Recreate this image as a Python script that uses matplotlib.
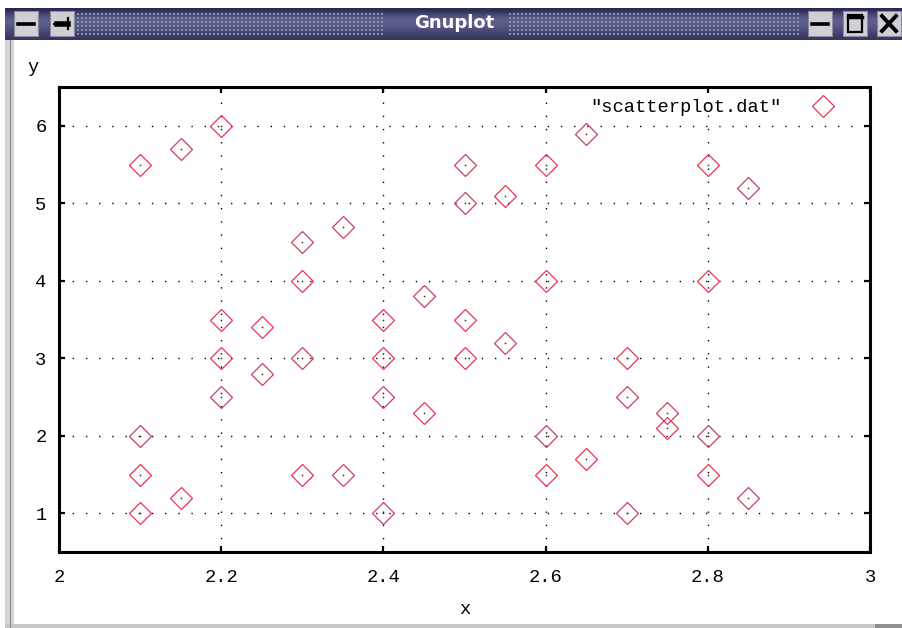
import numpy as np
import matplotlib
matplotlib.use("Agg")
import matplotlib.pyplot as plt
from matplotlib.patches import Rectangle
from matplotlib.colors import LinearSegmentedColormap

# scatterplot.dat
x = [2.10, 2.15, 2.20, 2.30, 2.35, 2.30, 2.20, 2.25, 2.20, 2.25,
     2.20, 2.30, 2.10, 2.10, 2.15, 2.10, 2.30, 2.35, 2.40, 2.40,
     2.40, 2.40, 2.45, 2.45, 2.50, 2.50, 2.55, 2.50, 2.50, 2.55,
     2.60, 2.65, 2.60, 2.60, 2.60, 2.65, 2.70, 2.70, 2.70, 2.75,
     2.75, 2.80, 2.80, 2.80, 2.80, 2.85, 2.85]
y = [5.5, 5.7, 6.0, 4.5, 4.7, 4.0, 3.5, 3.4, 3.0, 2.8,
     2.5, 3.0, 2.0, 1.5, 1.2, 1.0, 1.5, 1.5, 3.5, 3.0,
     2.5, 1.0, 3.8, 2.3, 5.5, 5.0, 5.1, 3.5, 3.0, 3.2,
     5.5, 5.9, 4.0, 2.0, 1.5, 1.7, 3.0, 2.5, 1.0, 2.3,
     2.1, 5.5, 4.0, 2.0, 1.5, 5.2, 1.2]
xticks = [2, 2.2, 2.4, 2.6, 2.8, 3]
yticks = [1, 2, 3, 4, 5, 6]

W, H = 903, 628
mono = "Liberation Mono"
fsize = 13.5
red = "#d83a55"

fig = plt.figure(figsize=(W / 100, H / 100), dpi=100)
fig.patch.set_facecolor("white")

# --- window frame (pixel coordinates) ---
bg = fig.add_axes([0, 0, 1, 1], zorder=-5)
bg.set_xlim(0, W)
bg.set_ylim(H, 0)
bg.axis("off")

grad = np.array([0.0, 0.35, 0.6, 0.7, 0.6, 0.45, 0.3, 0.15])[:, None]
tb_cmap = LinearSegmentedColormap.from_list("tb", ["#2a2a50", "#606090"])
bg.imshow(grad, cmap=tb_cmap, extent=[5, W, 40, 8], aspect="auto",
          interpolation="bicubic", zorder=1)

# dotted texture either side of the title
for x0, x1 in [(62, 385), (510, 800)]:
    gx, gy = np.meshgrid(np.arange(x0, x1, 4), np.arange(14, 36, 4))
    bg.scatter(gx.ravel(), gy.ravel(), s=0.6, c="#8e8eb2", marker="s",
               linewidths=0, zorder=2)

bg.text(454, 23, "Gnuplot", color="white", fontsize=13, fontweight="bold",
        family="DejaVu Sans", ha="center", va="center", zorder=3)

# title bar buttons
for bx in [14, 50, 808, 843, 877]:
    bg.add_patch(Rectangle((bx, 11), 24, 25, facecolor="#cfcfd6",
                           edgecolor="#8a8aa0", linewidth=0.8, zorder=3))
bg.plot([18, 34], [23.5, 23.5], color="black", lw=2.6, zorder=4)
bg.plot([812, 828], [23.5, 23.5], color="black", lw=2.6, zorder=4)
bg.plot([57, 68], [23.5, 23.5], color="black", lw=4, zorder=4)
bg.plot([68, 68], [18, 29], color="black", lw=1.6, zorder=4)
bg.plot([54, 58], [23.5, 23.5], color="black", lw=1.4, zorder=4)
bg.add_patch(Rectangle((848, 15), 14, 17, facecolor="none",
                       edgecolor="black", linewidth=1.6, zorder=4))
bg.plot([848, 862], [16.5, 16.5], color="black", lw=2.5, zorder=4)
bg.plot([882, 896], [16, 31], color="black", lw=2.8, zorder=4)
bg.plot([882, 896], [31, 16], color="black", lw=2.8, zorder=4)

# left border and bottom edge
bg.add_patch(Rectangle((5, 40), 9, H - 40, facecolor="#d4d4d4",
                       edgecolor="none", zorder=1))
bg.plot([10, 10], [40, H], color="#8c8c8c", lw=0.8, zorder=2)
bg.add_patch(Rectangle((5, H - 4), W, 4, facecolor="#c8c8c8",
                       edgecolor="none", zorder=1))
bg.add_patch(Rectangle((875, H - 4), 28, 4, facecolor="#909090",
                       edgecolor="none", zorder=2))

# --- plot area ---
L, R, T, B = 59, 870, 87, 552
ax = fig.add_axes([L / W, 1 - B / H, (R - L) / W, (B - T) / H])
ax.set_facecolor("none")

ax.plot(x, y, linestyle="none", marker="D", markersize=11,
        markerfacecolor="none", markeredgecolor=red, markeredgewidth=0.9,
        label='"scatterplot.dat"', zorder=3)
ax.scatter(x, y, s=1.5, color="#602020", linewidths=0, zorder=4)

ax.set_xlim(2, 3)
ax.set_ylim(0.5, 6.5)
ax.set_xticks(xticks)
ax.set_yticks(yticks)
ax.set_xticklabels([f"{t:g}" for t in xticks])
ax.set_yticklabels([f"{t:g}" for t in yticks])

ax.grid(True, color="black", linewidth=1.0, linestyle=(0, (1, 8.5)))
ax.tick_params(direction="in", length=4, width=1.6, top=True, right=True,
               labelsize=fsize, pad=12, colors="black")
ax.tick_params(axis="y", pad=9)
for lab in ax.get_xticklabels() + ax.get_yticklabels():
    lab.set_family(mono)
for s in ax.spines.values():
    s.set_linewidth(2.2)
    s.set_color("black")

ax.set_xlabel("x", family=mono, fontsize=fsize, labelpad=11)
fig.text(33 / W, 1 - 68 / H, "y", family=mono, fontsize=fsize,
         ha="center", va="center")

ax.legend(loc="upper right", markerfirst=False, frameon=False,
          prop={"family": mono, "size": fsize}, handlelength=2.0,
          handletextpad=1.17, borderaxespad=0, borderpad=0.4,
          bbox_to_anchor=(0.974, 0.99))

fig.savefig("out.png", dpi=100)
